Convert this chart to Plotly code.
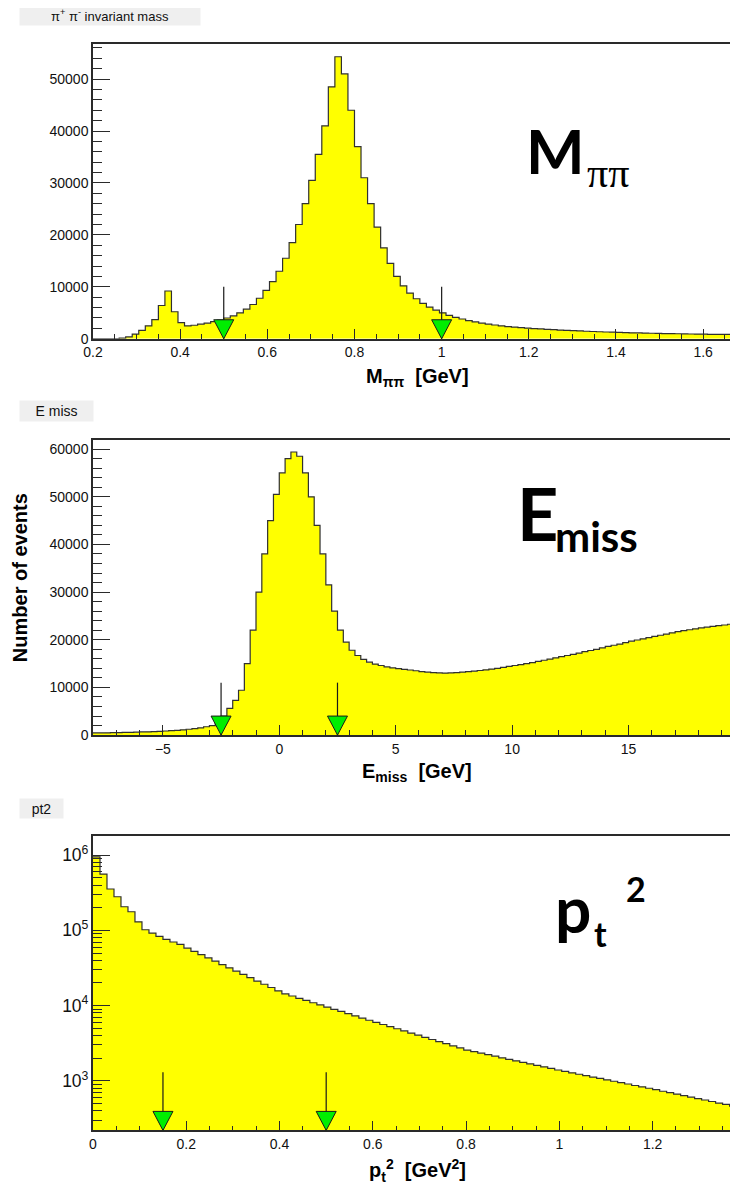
import plotly.graph_objects as go

# ---------------- data ----------------
# pi+ pi- invariant mass histogram (bins of 0.015 GeV starting at 0.2 GeV)
mpipi_lo = 0.2
mpipi_bw = 0.015
mpipi_counts = [
    0, 0, 0, 0, 120, 350, 900, 1600, 2500, 3700,
    6400, 9200, 5200, 3100, 2500, 2600, 2800, 3000, 3300, 3600,
    4000, 4400, 5000, 5700, 6600, 7800, 9300, 11000, 13000, 15500,
    18500, 22000, 26000, 30500, 35500, 41000, 48500, 54300, 51000, 44000,
    37000, 31000, 26000, 21500, 17500, 14500, 12000, 10200, 8800, 7700,
    6800, 6100, 5500, 5000, 4500, 4100, 3800, 3500, 3250, 3000,
    2800, 2650, 2500, 2350, 2250, 2150, 2050, 1950, 1900, 1820,
    1750, 1680, 1620, 1560, 1500, 1450, 1400, 1350, 1300, 1260,
    1220, 1180, 1150, 1120, 1090, 1060, 1030, 1000, 980, 960,
    940, 920, 900, 880, 860, 850, 840, 830, 820, 810,
]
mpipi_cuts = [0.5, 1.0]
mpipi_arrow_top = 10000

# missing energy histogram (bins of 0.25 GeV starting at -8 GeV)
emiss_lo = -8.0
emiss_bw = 0.25
emiss_counts = [
    440, 460, 470, 500, 520, 550, 580, 610, 650, 690,
    730, 790, 850, 920, 1000, 1100, 1220, 1360, 1530, 1750,
    2000, 2600, 4000, 5600, 7300, 9400, 15000, 22000, 30000, 38000,
    45000, 50500, 55000, 58000, 59400, 58500, 55000, 50000, 44000, 38000,
    31500, 26000, 22000, 19500, 17800, 16700, 15900, 15300, 14900, 14600,
    14300, 14100, 13950, 13800, 13650, 13500, 13300, 13200, 13100, 13050,
    13000, 13050, 13100, 13200, 13300, 13400, 13550, 13700, 13850, 14000,
    14200, 14400, 14600, 14800, 15000, 15200, 15450, 15700, 15950, 16200,
    16450, 16700, 16950, 17200, 17500, 17750, 18000, 18300, 18600, 18850,
    19100, 19400, 19700, 19950, 20200, 20450, 20700, 20950, 21200, 21450,
    21700, 21900, 22100, 22300, 22500, 22650, 22800, 22950, 23100, 23250,
    23400, 23500,
]
emiss_cuts = [-2.5, 2.5]
emiss_arrow_top = 11000

# pt^2 histogram (bins of 0.015 GeV^2 starting at 0)
pt2_lo = 0.0
pt2_bw = 0.015
pt2_counts = [
    950000, 560000, 355000, 280000, 206000, 177000, 130000, 102000, 92000, 83000,
    76000, 70000, 65000, 58000, 52500, 47500, 43000, 39000, 35000, 31800,
    28700, 26000, 23500, 21200, 19200, 17400, 15700, 14300, 13400, 12500,
    11700, 10900, 10200, 9550, 8900, 8350, 7800, 7300, 6800, 6380,
    5970, 5600, 5240, 4920, 4600, 4310, 4040, 3780, 3540, 3320,
    3110, 2910, 2730, 2560, 2440, 2330, 2220, 2120, 2020, 1930,
    1840, 1760, 1680, 1600, 1530, 1460, 1390, 1330, 1275, 1220,
    1170, 1120, 1075, 1030, 985, 945, 905, 865, 830, 795,
    760, 725, 695, 665, 635, 605, 580, 555, 530, 505,
    485, 460, 440,
]
pt2_cuts = [0.15, 0.5]
pt2_arrow_top = 1300

# ---------------- layout helpers ----------------
# the page adds an 8px body margin, so the figure is placed at (8, 8)
OFF = 8
FW, FH = 738 - OFF, 1196 - OFF
PLOT_LEFT = 93  # page px where plot area starts
PAGE_W = 738


def px_x(px):
    return (px - PLOT_LEFT) / (PAGE_W - PLOT_LEFT)


def px_y(py):
    return 1 - (py - OFF) / FH


def steps(lo, bw, counts):
    xs = [lo + bw * i for i in range(len(counts) + 1)]
    ys = list(counts) + [counts[-1]]
    return xs, ys


FILL = "#ffff00"
OUTLINE = "#303030"
AXC = "#2a2a2a"
TICKFONT = dict(family="Liberation Sans, Arial, sans-serif", size=14, color="#111")

fig = go.Figure()

x1, y1 = steps(mpipi_lo, mpipi_bw, mpipi_counts)
fig.add_trace(go.Scatter(x=x1, y=y1, mode="lines", line=dict(shape="hv", color=OUTLINE, width=1.2),
                         fill="tozeroy", fillcolor=FILL, xaxis="x", yaxis="y", hoverinfo="skip"))
x2, y2 = steps(emiss_lo, emiss_bw, emiss_counts)
fig.add_trace(go.Scatter(x=x2, y=y2, mode="lines", line=dict(shape="hv", color=OUTLINE, width=1.2),
                         fill="tozeroy", fillcolor=FILL, xaxis="x2", yaxis="y2", hoverinfo="skip"))
x3, y3 = steps(pt2_lo, pt2_bw, pt2_counts)
fig.add_trace(go.Scatter(x=x3, y=[1] * len(x3), mode="lines", line=dict(shape="hv", width=0),
                         xaxis="x3", yaxis="y3", hoverinfo="skip"))
fig.add_trace(go.Scatter(x=x3, y=y3, mode="lines", line=dict(shape="hv", color=OUTLINE, width=1.2),
                         fill="tonexty", fillcolor=FILL, xaxis="x3", yaxis="y3", hoverinfo="skip"))

TRI = "M-10,19 L10,19 L0,0 Z"
shapes = []
for cuts, top, bottom, xa, ya in [
    (mpipi_cuts, mpipi_arrow_top, 0, "x", "y"),
    (emiss_cuts, emiss_arrow_top, 0, "x2", "y2"),
    (pt2_cuts, pt2_arrow_top, 1, "x3", "y3"),
]:
    for c in cuts:
        fig.add_trace(go.Scatter(x=[c, c], y=[bottom, top], mode="lines",
                                 line=dict(color="#1a1a1a", width=1.2),
                                 xaxis=xa, yaxis=ya, hoverinfo="skip"))
        shapes.append(dict(type="path", xref=xa, yref=ya + " domain", xsizemode="pixel",
                           ysizemode="pixel", xanchor=c, yanchor=0, path=TRI,
                           fillcolor="#00ee00", line=dict(color="#1a1a1a", width=1),
                           layer="above"))


def xaxis_cfg(rng, dtick, tick0, mdtick, anchor):
    return dict(domain=[0, 1], range=rng, anchor=anchor, showline=True, linecolor=AXC,
                linewidth=1.5, mirror=True, ticks="inside", ticklen=10, tickwidth=1,
                tickcolor=AXC, dtick=dtick, tick0=tick0, showgrid=False, zeroline=False,
                minor=dict(ticks="inside", ticklen=5, dtick=mdtick, tick0=tick0, tickcolor=AXC),
                tickfont=TICKFONT, fixedrange=True)


def yaxis_cfg(dom, rng, anchor, log=False):
    d = dict(domain=dom, range=rng, anchor=anchor, showline=True, linecolor=AXC, linewidth=1.5,
             ticks="inside", ticklen=17, tickwidth=1, tickcolor=AXC, showgrid=False,
             zeroline=False, tickfont=TICKFONT, fixedrange=True)
    if log:
        d.update(type="log", dtick=1, exponentformat="power",
                 minor=dict(ticks="inside", ticklen=9, dtick="D1", tickcolor=AXC))
    else:
        d.update(dtick=10000, tickformat="d",
                 minor=dict(ticks="inside", ticklen=9, dtick=2000, tickcolor=AXC))
    return d


dom1 = [px_y(341), px_y(44)]
dom2 = [px_y(740), px_y(443)]
dom3 = [px_y(1138), px_y(842)]

annotations = []


def ann(text, x, y, size, xanchor="center", yanchor="middle", family="Liberation Sans, Arial",
        weight="bold", **kw):
    annotations.append(dict(text=text, x=px_x(x), y=px_y(y), xref="paper", yref="paper",
                            showarrow=False, xanchor=xanchor, yanchor=yanchor,
                            font=dict(family=family, size=size, color="#000", weight=weight), **kw))


for txt, x0, x1b, y0, y1b, fs in [
    ("π<sup>+</sup> π<sup>-</sup> invariant mass", 20, 200, 6, 25, 13),
    ("E miss", 20, 93, 404, 424, 14),
    ("pt2", 20, 63, 804, 823, 14),
]:
    annotations.append(dict(text=txt, x=px_x((x0 + x1b) / 2), y=px_y((y0 + y1b) / 2),
                            xref="paper", yref="paper", showarrow=False,
                            xanchor="center", yanchor="middle", width=x1b - x0, height=y1b - y0,
                            bgcolor="#efefef", borderpad=0,
                            font=dict(family="Liberation Sans, Arial", size=fs, color="#111")))

ann("M<sub>ππ</sub>  [GeV]", 417, 380, 20)
ann("E<sub>miss</sub>  [GeV]", 417, 778, 20)
ann("p<sub>t</sub><sup>2</sup>  [GeV<sup>2</sup>]", 417, 1178, 20)
ann("Number of events", 20, 582, 20, textangle=-90)

BIG = "Lato, Open Sans, sans-serif"
ann("M", 524, 151, 62, xanchor="left", family=BIG)
ann("ππ", 585, 174, 42, xanchor="left", family="Liberation Serif, serif", weight="normal")
ann("E", 515, 516, 72, xanchor="left", family=BIG)
ann("miss", 553, 540, 42, xanchor="left", family=BIG)
ann("p", 553, 915, 64, xanchor="left", family=BIG)
ann("t", 592, 940, 34, xanchor="left", family=BIG)
ann("2", 624, 894, 34, xanchor="left", family=BIG)

fig.update_layout(
    width=FW, height=FH, margin=dict(l=PLOT_LEFT - OFF, r=0, t=0, b=0),
    paper_bgcolor="white", plot_bgcolor="white", showlegend=False,
    xaxis=xaxis_cfg([0.2, 1.68], 0.2, 0.2, 0.05, "y"),
    yaxis=yaxis_cfg(dom1, [0, 56800], "x"),
    xaxis2=xaxis_cfg([-8, 19.7], 5, 0, 1, "y2"),
    yaxis2=yaxis_cfg(dom2, [0, 61900], "x2"),
    xaxis3=xaxis_cfg([0, 1.383], 0.2, 0, 0.05, "y3"),
    yaxis3=yaxis_cfg(dom3, [2.34, 6.25], "x3", log=True),
    shapes=shapes, annotations=annotations,
)

fig.write_html("out.html")
